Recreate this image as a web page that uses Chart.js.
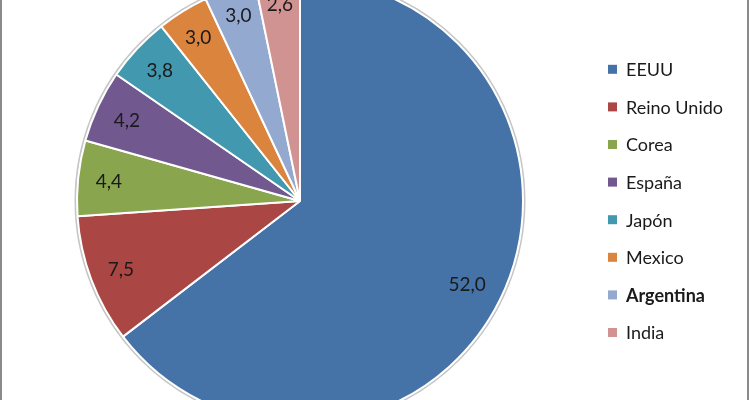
<!DOCTYPE html>
<html>
<head>
<meta charset="utf-8">
<script src="https://cdn.jsdelivr.net/npm/chart.js@4.4.1/dist/chart.umd.min.js"></script>
<style>
  html, body { margin: 0; padding: 0; background: #ffffff; }
  #wrap { width: 750px; height: 400px; position: relative; }
</style>
</head>
<body>
<div id="wrap"><canvas id="c" width="750" height="400"></canvas></div>
<script>
const categories = ["EEUU", "Reino Unido", "Corea", "España", "Japón", "Mexico", "Argentina", "India"];
const values = [52.0, 7.5, 4.4, 4.2, 3.8, 3.0, 3.0, 2.6];
const colors = ["#4572A7", "#AA4643", "#89A54E", "#71588F", "#4198AF", "#DB843D", "#93A9CF", "#D19392"];
const boldCategories = ["Argentina"];

const FONT = "Lato, 'Open Sans', sans-serif";

const framePlugin = {
  id: 'frame',
  beforeDatasetsDraw(chart) {
    const meta = chart.getDatasetMeta(0);
    const arc = meta.data[0];
    if (!arc) return;
    const ctx = chart.ctx;
    ctx.save();
    ctx.beginPath();
    ctx.arc(arc.x, arc.y, arc.outerRadius + 1.5, 0, Math.PI * 2);
    ctx.strokeStyle = 'rgba(150,150,150,0.55)';
    ctx.lineWidth = 2;
    ctx.stroke();
    ctx.restore();
  },
  afterDraw(chart) {
    const ctx = chart.ctx;
    const meta = chart.getDatasetMeta(0);
    ctx.save();
    // value labels, kept inside the slice near its outer edge
    ctx.fillStyle = '#1a1a1a';
    ctx.font = "19px " + FONT;
    ctx.textAlign = 'center';
    ctx.textBaseline = 'middle';
    meta.data.forEach((arc, i) => {
      const txt = values[i].toFixed(1).replace('.', ',');
      const w = ctx.measureText(txt).width;
      const h = 13;
      const mid = (arc.startAngle + arc.endAngle) / 2;
      const c = Math.cos(mid), s = Math.sin(mid);
      const ext = Math.abs(c) * w / 2 + Math.abs(s) * h / 2;
      const r = arc.outerRadius - 17 - ext;
      ctx.fillText(txt, arc.x + c * r, arc.y + s * r + 1);
    });
    // legend
    const lx = 608, ly0 = 69.3, step = 37.6;
    ctx.textAlign = 'left';
    categories.forEach((name, i) => {
      const y = ly0 + i * step;
      ctx.fillStyle = colors[i];
      ctx.fillRect(lx, y - 4.5, 9, 9);
      ctx.fillStyle = '#1a1a1a';
      ctx.font = (boldCategories.includes(name) ? 'bold ' : '') + "18px " + FONT;
      ctx.fillText(name, lx + 18, y + 1);
    });
    // outer frame lines
    ctx.strokeStyle = '#8a8a8a';
    ctx.lineWidth = 2;
    ctx.beginPath();
    ctx.moveTo(1, 0); ctx.lineTo(1, 400);
    ctx.moveTo(748, 0); ctx.lineTo(748, 400);
    ctx.stroke();
    ctx.restore();
  }
};

new Chart(document.getElementById('c'), {
  type: 'pie',
  data: {
    labels: categories,
    datasets: [{
      data: values,
      backgroundColor: colors,
      borderColor: '#ffffff',
      borderWidth: 2,
      radius: 223
    }]
  },
  options: {
    responsive: false,
    animation: false,
    layout: { padding: { left: 0, right: 150, top: 2, bottom: 0 } },
    plugins: {
      legend: { display: false },
      tooltip: { enabled: false }
    }
  },
  plugins: [framePlugin]
});
</script>
</body>
</html>
